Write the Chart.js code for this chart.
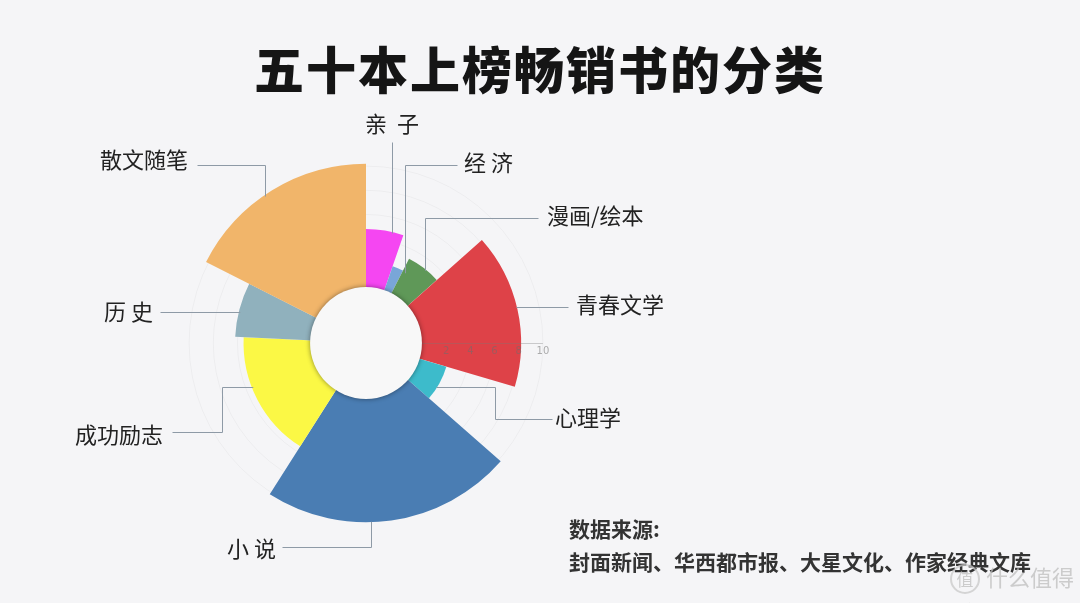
<!DOCTYPE html>
<html lang="zh">
<head>
<meta charset="utf-8">
<script src="https://cdn.jsdelivr.net/npm/chart.js@4"></script>
<style>
  html, body { margin: 0; padding: 0; background: #f5f5f7; }
  #wrap { position: relative; width: 1080px; height: 603px; overflow: hidden; font-family: "Noto Sans CJK SC", "Noto Sans", sans-serif; }
  #title { position: absolute; left: 0; top: 34px; width: 1080px; text-align: center; font-size: 50px; font-weight: 900; color: #151515; letter-spacing: 2px; line-height: 66px; }
  #source { position: absolute; left: 569px; top: 512px; font-size: 21px; font-weight: 700; color: #333; line-height: 33px; }
  #wm { position: absolute; left: 950px; top: 560px; font-size: 22px; color: rgba(190,190,190,0.75); }
  #wm span { display: inline-block; width: 26px; height: 26px; border: 2px solid rgba(200,200,200,0.75); border-radius: 50%; text-align: center; line-height: 26px; font-size: 17px; margin-right: 6px; }
  canvas { position: absolute; left: 0; top: 0; }
</style>
</head>
<body>
<div id="wrap">
  <canvas id="c" width="1080" height="603"></canvas>
  <div id="title">五十本上榜畅销书的分类</div>
  <div id="source">数据来源:<br>封面新闻、华西都市报、大星文化、作家经典文库</div>
  <div id="wm"><span>值</span>什么值得买</div>
</div>
<script>
// ---- data ----
const categories = ['亲子', '经济', '漫画/绘本', '青春文学', '心理学', '小说', '成功励志', '历史', '散文随笔'];
const displayLabels = ['亲  子', '经 济', '漫画/绘本', '青春文学', '心理学', '小 说', '成功励志', '历 史', '散文随笔'];
const radiusValues = [4.8, 2.1, 3.2, 8.2, 2.3, 10.2, 5.5, 6.2, 10.2];
const angleShares = [5.3, 2.2, 5.9, 16.1, 6.9, 22.5, 16.7, 6.7, 17.5];
const axisTicks = [0, 2, 4, 6, 8, 10];
const colors = ['#f546f2', '#79a6d8', '#5f9858', '#de4248', '#3dbbcb', '#4a7db3', '#fbf845', '#90b1bd', '#f1b56a'];

// ---- layout (not data) ----
const CX = 366, CY = 343, R = 189;
const HOLE = 0.296;
const AXIS_MAX = 11;
const AXIS_MIN = -HOLE * AXIS_MAX / (1 - HOLE);
const shareTotal = angleShares.reduce((a, b) => a + b, 0);

// label layout: text position, elbow points, final segment direction toward the slice edge
const labelLayout = [
  { tx: 392, ty: 124, align: 'center', pts: [[392, 142]], end: 'v-' },
  { tx: 464, ty: 163, align: 'left', pts: [[457, 165], [405, 165]], end: 'v-' },
  { tx: 547, ty: 216, align: 'left', pts: [[538, 218], [425, 218]], end: 'v-' },
  { tx: 576, ty: 305, align: 'left', pts: [[568, 307]], end: 'h+' },
  { tx: 555, ty: 418, align: 'left', pts: [[552, 419], [495, 419], [495, 387]], end: 'h+' },
  { tx: 276, ty: 549, align: 'right', pts: [[282, 547], [371, 547]], end: 'v+' },
  { tx: 163, ty: 435, align: 'right', pts: [[172, 432], [222, 432], [222, 387]], end: 'h-' },
  { tx: 153, ty: 312, align: 'right', pts: [[160, 312]], end: 'h-' },
  { tx: 188, ty: 160, align: 'right', pts: [[197, 165], [265, 165]], end: 'v-' }
];

const decor = {
  id: 'decor',
  afterDatasetsDraw(chart) {
    const s = chart.scales.r, ctx = chart.ctx;
    const x0 = s.xCenter + s.getDistanceFromCenterForValue(0);
    const x1 = s.xCenter + s.getDistanceFromCenterForValue(axisTicks[axisTicks.length - 1]);
    ctx.save();
    ctx.strokeStyle = 'rgba(120,120,120,0.35)';
    ctx.lineWidth = 1;
    ctx.beginPath();
    ctx.moveTo(x0, s.yCenter + 0.5);
    ctx.lineTo(x1, s.yCenter + 0.5);
    ctx.stroke();
    ctx.fillStyle = 'rgba(110,110,110,0.55)';
    ctx.font = '10px "DejaVu Sans", sans-serif';
    ctx.textAlign = 'center';
    ctx.textBaseline = 'top';
    axisTicks.slice(1).forEach(v => {
      ctx.fillText(String(v), s.xCenter + s.getDistanceFromCenterForValue(v), s.yCenter + 3);
    });
    ctx.restore();
    const hr = s.getDistanceFromCenterForValue(0);
    ctx.save();
    ctx.shadowColor = 'rgba(0,0,0,0.45)';
    ctx.shadowBlur = 5;
    ctx.fillStyle = '#f8f8f8';
    ctx.beginPath();
    ctx.arc(s.xCenter, s.yCenter, hr, 0, Math.PI * 2);
    ctx.fill();
    ctx.restore();
  },
  afterDraw(chart) {
    const s = chart.scales.r, ctx = chart.ctx;
    const arcs = chart.getDatasetMeta(0).data;
    ctx.save();
    ctx.strokeStyle = '#8e9aa6';
    ctx.lineWidth = 1;
    ctx.fillStyle = '#222';
    ctx.font = '22px "Noto Sans CJK SC", sans-serif';
    ctx.textBaseline = 'middle';
    labelLayout.forEach((L, i) => {
      const r = arcs[i].outerRadius - 1;
      const last = L.pts[L.pts.length - 1];
      let ex, ey;
      if (L.end[0] === 'v') {
        ex = last[0];
        const d = Math.sqrt(Math.max(r * r - (ex - s.xCenter) ** 2, 0));
        ey = s.yCenter + (L.end[1] === '-' ? -d : d);
      } else {
        ey = last[1];
        const d = Math.sqrt(Math.max(r * r - (ey - s.yCenter) ** 2, 0));
        ex = s.xCenter + (L.end[1] === '-' ? -d : d);
      }
      ctx.beginPath();
      L.pts.forEach((p, k) => k === 0 ? ctx.moveTo(p[0] + 0.5, p[1] + 0.5) : ctx.lineTo(p[0] + 0.5, p[1] + 0.5));
      ctx.lineTo(ex + 0.5, ey + 0.5);
      ctx.stroke();
      ctx.textAlign = L.align;
      ctx.fillText(displayLabels[i], L.tx, L.ty);
    });
    ctx.restore();
  }
};

new Chart(document.getElementById('c'), {
  type: 'polarArea',
  data: {
    labels: categories,
    datasets: [{
      data: radiusValues,
      backgroundColor: colors,
      borderWidth: 0,
      angle: ctx => angleShares[ctx.dataIndex] / shareTotal * 360
    }]
  },
  options: {
    responsive: false,
    animation: false,
    events: [],
    layout: { padding: { left: CX - R, right: 1080 - CX - R, top: CY - R, bottom: 603 - CY - R } },
    plugins: { legend: { display: false }, tooltip: { enabled: false } },
    scales: {
      r: {
        min: AXIS_MIN,
        max: AXIS_MAX,
        afterBuildTicks: scale => { scale.ticks = axisTicks.map(v => ({ value: v })); },
        ticks: { display: false },
        grid: { color: 'rgba(0,0,0,0.035)', lineWidth: 1 },
        angleLines: { display: false },
        pointLabels: { display: false }
      }
    }
  },
  plugins: [decor]
});
</script>
</body>
</html>
